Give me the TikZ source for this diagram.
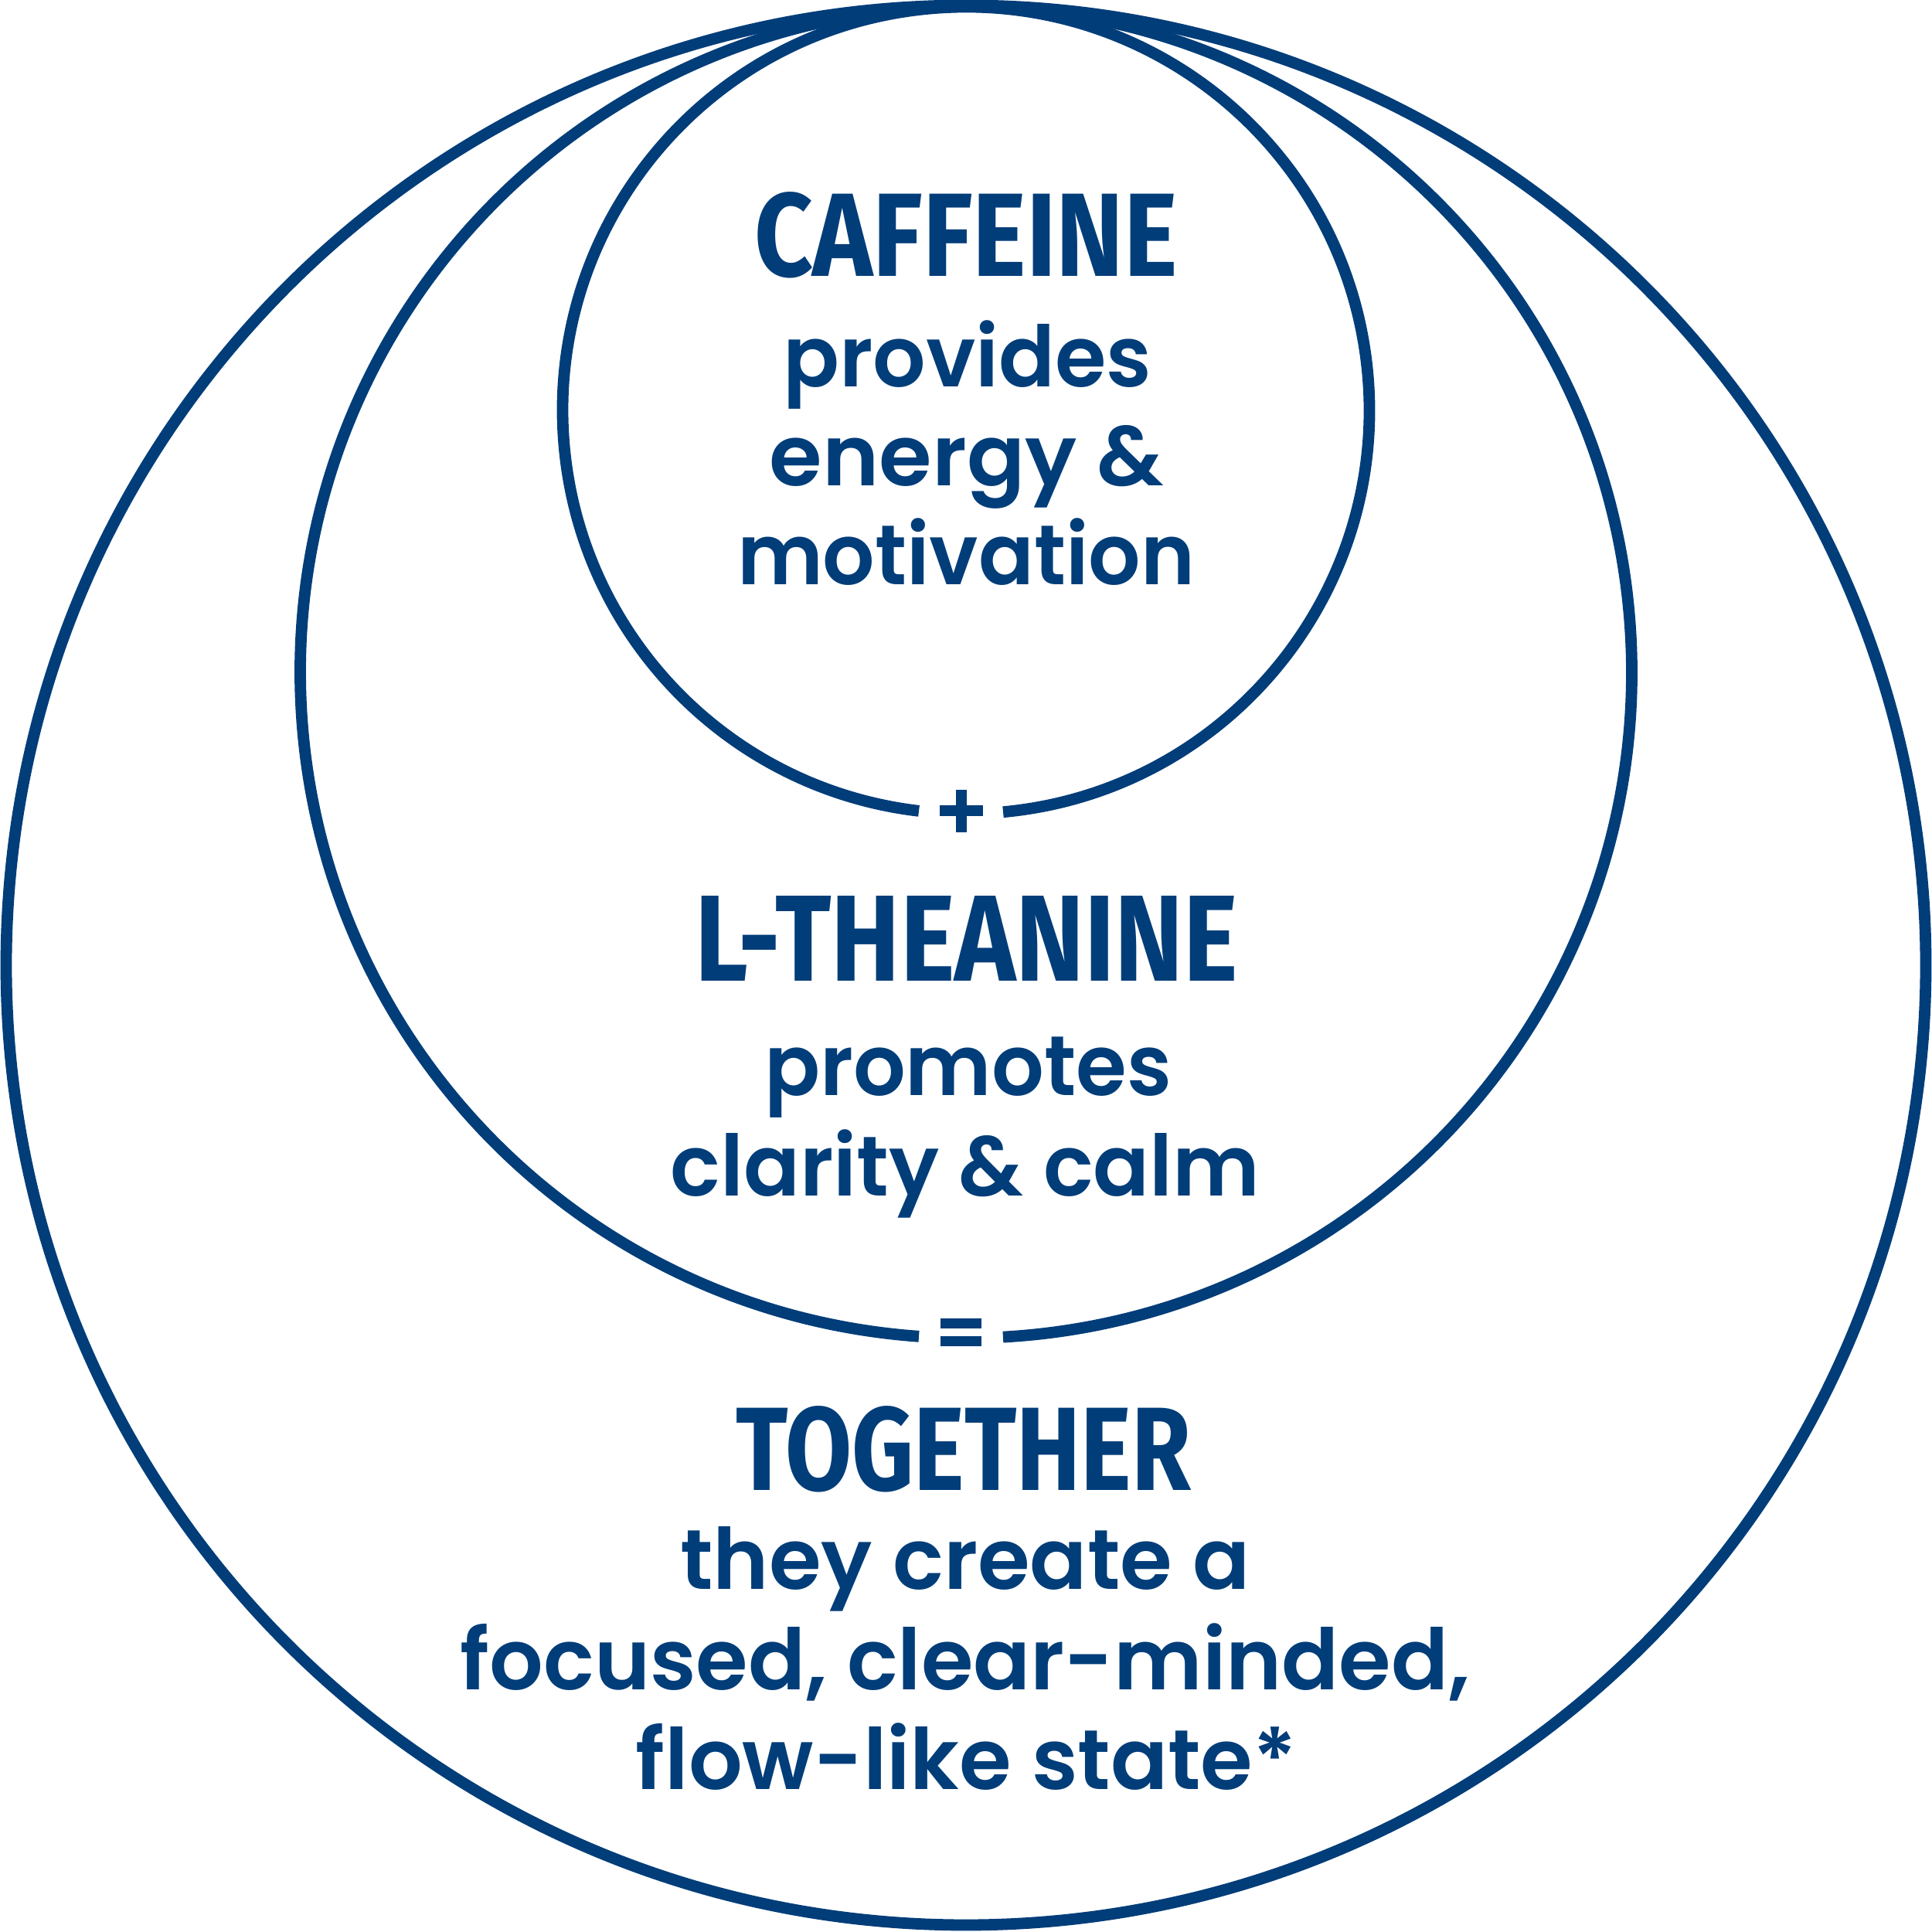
\documentclass[tikz,border=0pt]{standalone}
\usepackage{fontspec}
\usepackage{graphicx}
\newfontfamily\headfont{Fira Sans Bold}
\newfontfamily\bodyfont{Poppins SemiBold}
\definecolor{navy}{RGB}{1,61,121}
\begin{document}
\begin{tikzpicture}
\useasboundingbox (0,0) rectangle (25,25);
\tikzset{
  ring/.style={draw=navy, line width=0.148cm},
  sign/.style={draw=navy, line width=0.14cm},
  head/.style={inner sep=0, text=navy, anchor=south},
  body/.style={inner sep=0, text=navy, anchor=base, font=\bodyfont\fontsize{31.15pt}{37pt}\selectfont}
}
\coordinate (co) at (12.5,12.51);
\coordinate (cm) at (12.5,16.30);
\coordinate (ci) at (12.5,19.69);
\draw[ring] (co) circle[radius=12.42];
\draw[ring] ([shift={(-86.81:8.615)}]cm) arc[start angle=-86.81, end angle=265.94, radius=8.615];
\draw[ring] ([shift={(-84.72:5.22)}]ci) arc[start angle=-84.72, end angle=263.29, radius=5.22];

\node[head] (caf) at (12.50,21.39) {\resizebox{5.48cm}{1.09cm}{\headfont CAFFEINE}};
\node[body] (c1) at (12.52,19.99) {\resizebox{4.77cm}{\height}{provides}};
\node[body] (c2) at (12.51,18.71) {\resizebox{5.10cm}{\height}{energy \&}};
\node[body] (c3) at (12.50,17.43) {\resizebox{5.92cm}{\height}{motivation}};

\draw[sign] (12.155,14.505) -- (12.715,14.505);
\draw[sign] (12.435,14.23) -- (12.435,14.78);

\node[head] (the) at (12.51,12.30) {\resizebox{7.02cm}{1.10cm}{\headfont L-THEANINE}};
\node[body] (t1) at (12.525,10.82) {\resizebox{5.27cm}{\height}{promotes}};
\node[body] (t2) at (12.49,9.52) {\resizebox{7.63cm}{\height}{clarity \& calm}};

\draw[sign, line width=0.13cm] (12.17,7.875) -- (12.70,7.875);
\draw[sign, line width=0.13cm] (12.17,7.64) -- (12.70,7.64);

\node[head] (tog) at (12.47,5.68) {\resizebox{5.88cm}{1.09cm}{\headfont TOGETHER}};
\node[body] (g1) at (12.49,4.43) {\resizebox{7.37cm}{\height}{they create a}};
\node[body] (g2) at (12.49,3.13) {\resizebox{13.06cm}{\height}{focused, clear-minded,}};
\node[body] (g3) at (12.505,1.84) {\resizebox{8.55cm}{\height}{flow-like state*}};
\end{tikzpicture}
\end{document}
